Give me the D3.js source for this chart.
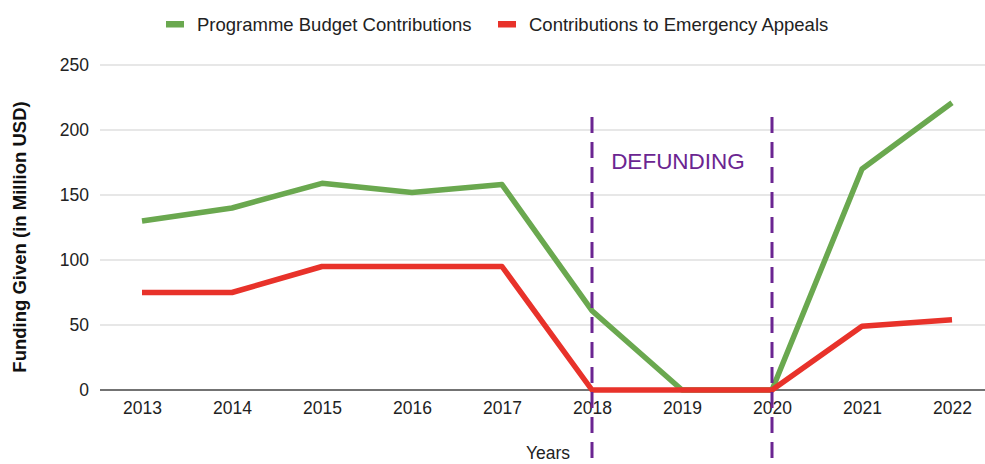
<!DOCTYPE html>
<html>
<head>
<meta charset="utf-8">
<script src="https://cdn.jsdelivr.net/npm/d3@7/dist/d3.min.js"></script>
<style>
  html, body { margin: 0; padding: 0; background: #fff; }
  svg { display: block; font-family: "Liberation Sans", Arial, sans-serif; }
</style>
</head>
<body>
<svg id="chart" width="985" height="464"></svg>
<script>
// Funding data, million USD per year
const years = ["2013", "2014", "2015", "2016", "2017", "2018", "2019", "2020", "2021", "2022"];
const programmeBudget = [130, 140, 159, 152, 158, 61, 0, 0, 170, 221];
const emergencyAppeals = [75, 75, 95, 95, 95, 0, 0, 0, 49, 54];
const yTicks = [0, 50, 100, 150, 200, 250];
const defundingYears = ["2018", "2020"];

const series = [
  { name: "Programme Budget Contributions", values: programmeBudget, color: "#6aa84f" },
  { name: "Contributions to Emergency Appeals", values: emergencyAppeals, color: "#e8322a" }
];

const svg = d3.select("#chart");
const W = 985, H = 464;
const plotLeft = 97, plotRight = 997, plotTop = 65, plotBottom = 390;

const x = d3.scalePoint().domain(years).range([plotLeft, plotRight]).padding(0.5);
const y = d3.scaleLinear().domain([0, 250]).range([plotBottom, plotTop]);

// horizontal gridlines
svg.append("g")
  .selectAll("line")
  .data(yTicks.filter(d => d !== 0))
  .join("line")
  .attr("x1", 100).attr("x2", W)
  .attr("y1", d => y(d)).attr("y2", d => y(d))
  .attr("stroke", "#cfcfcf").attr("stroke-width", 1.2);

// y axis labels
const yAxis = svg.append("g")
  .attr("transform", `translate(${100},0)`)
  .call(d3.axisLeft(y).tickValues(yTicks).tickSize(0).tickPadding(11));
yAxis.select(".domain").remove();
yAxis.selectAll("text")
  .attr("font-size", 17.5).attr("fill", "#222")
  .attr("font-family", "Liberation Sans, Arial, sans-serif");

// baseline
svg.append("line")
  .attr("x1", 100).attr("x2", W)
  .attr("y1", y(0)).attr("y2", y(0))
  .attr("stroke", "#444").attr("stroke-width", 1.5);

// x axis labels
const xAxis = svg.append("g")
  .attr("transform", `translate(0,${y(0)})`)
  .call(d3.axisBottom(x).tickSize(0).tickPadding(12));
xAxis.select(".domain").remove();
xAxis.selectAll("text")
  .attr("font-size", 17.5).attr("fill", "#222")
  .attr("font-family", "Liberation Sans, Arial, sans-serif");

// data lines
const line = d3.line()
  .x((d, i) => x(years[i]))
  .y(d => y(d));

svg.append("g")
  .selectAll("path")
  .data(series)
  .join("path")
  .attr("d", d => line(d.values))
  .attr("fill", "none")
  .attr("stroke", d => d.color)
  .attr("stroke-width", 5.5)
  .attr("stroke-linejoin", "round");

// defunding period markers
svg.append("g")
  .selectAll("line")
  .data(defundingYears)
  .join("line")
  .attr("x1", d => x(d)).attr("x2", d => x(d))
  .attr("y1", 117).attr("y2", H)
  .attr("stroke", "#6b2591")
  .attr("stroke-width", 3)
  .attr("stroke-dasharray", "16,9");

svg.append("text")
  .attr("x", (x(defundingYears[0]) + x(defundingYears[1])) / 2 - 4)
  .attr("y", 169)
  .attr("text-anchor", "middle")
  .attr("font-size", 22.5)
  .attr("fill", "#6b2591")
  .text("DEFUNDING");

// axis titles
svg.append("text")
  .attr("transform", `translate(26,${237}) rotate(-90)`)
  .attr("text-anchor", "middle")
  .attr("font-size", 18.5)
  .attr("font-weight", "bold")
  .attr("fill", "#111")
  .text("Funding Given (in Million USD)");

svg.append("text")
  .attr("x", 548)
  .attr("y", 459)
  .attr("text-anchor", "middle")
  .attr("font-size", 17.5)
  .attr("fill", "#222")
  .text("Years");

// legend
const legendItems = [
  { s: series[0], x: 166 },
  { s: series[1], x: 498 }
];
const legend = svg.append("g")
  .selectAll("g")
  .data(legendItems)
  .join("g")
  .attr("transform", d => `translate(${d.x},24)`);
legend.append("rect")
  .attr("x", 0).attr("y", -3)
  .attr("width", 18).attr("height", 6.5)
  .attr("fill", d => d.s.color);
legend.append("text")
  .attr("x", 31).attr("y", 0)
  .attr("dominant-baseline", "central")
  .attr("font-size", 18.5)
  .attr("fill", "#222")
  .text(d => d.s.name);
</script>
</body>
</html>
